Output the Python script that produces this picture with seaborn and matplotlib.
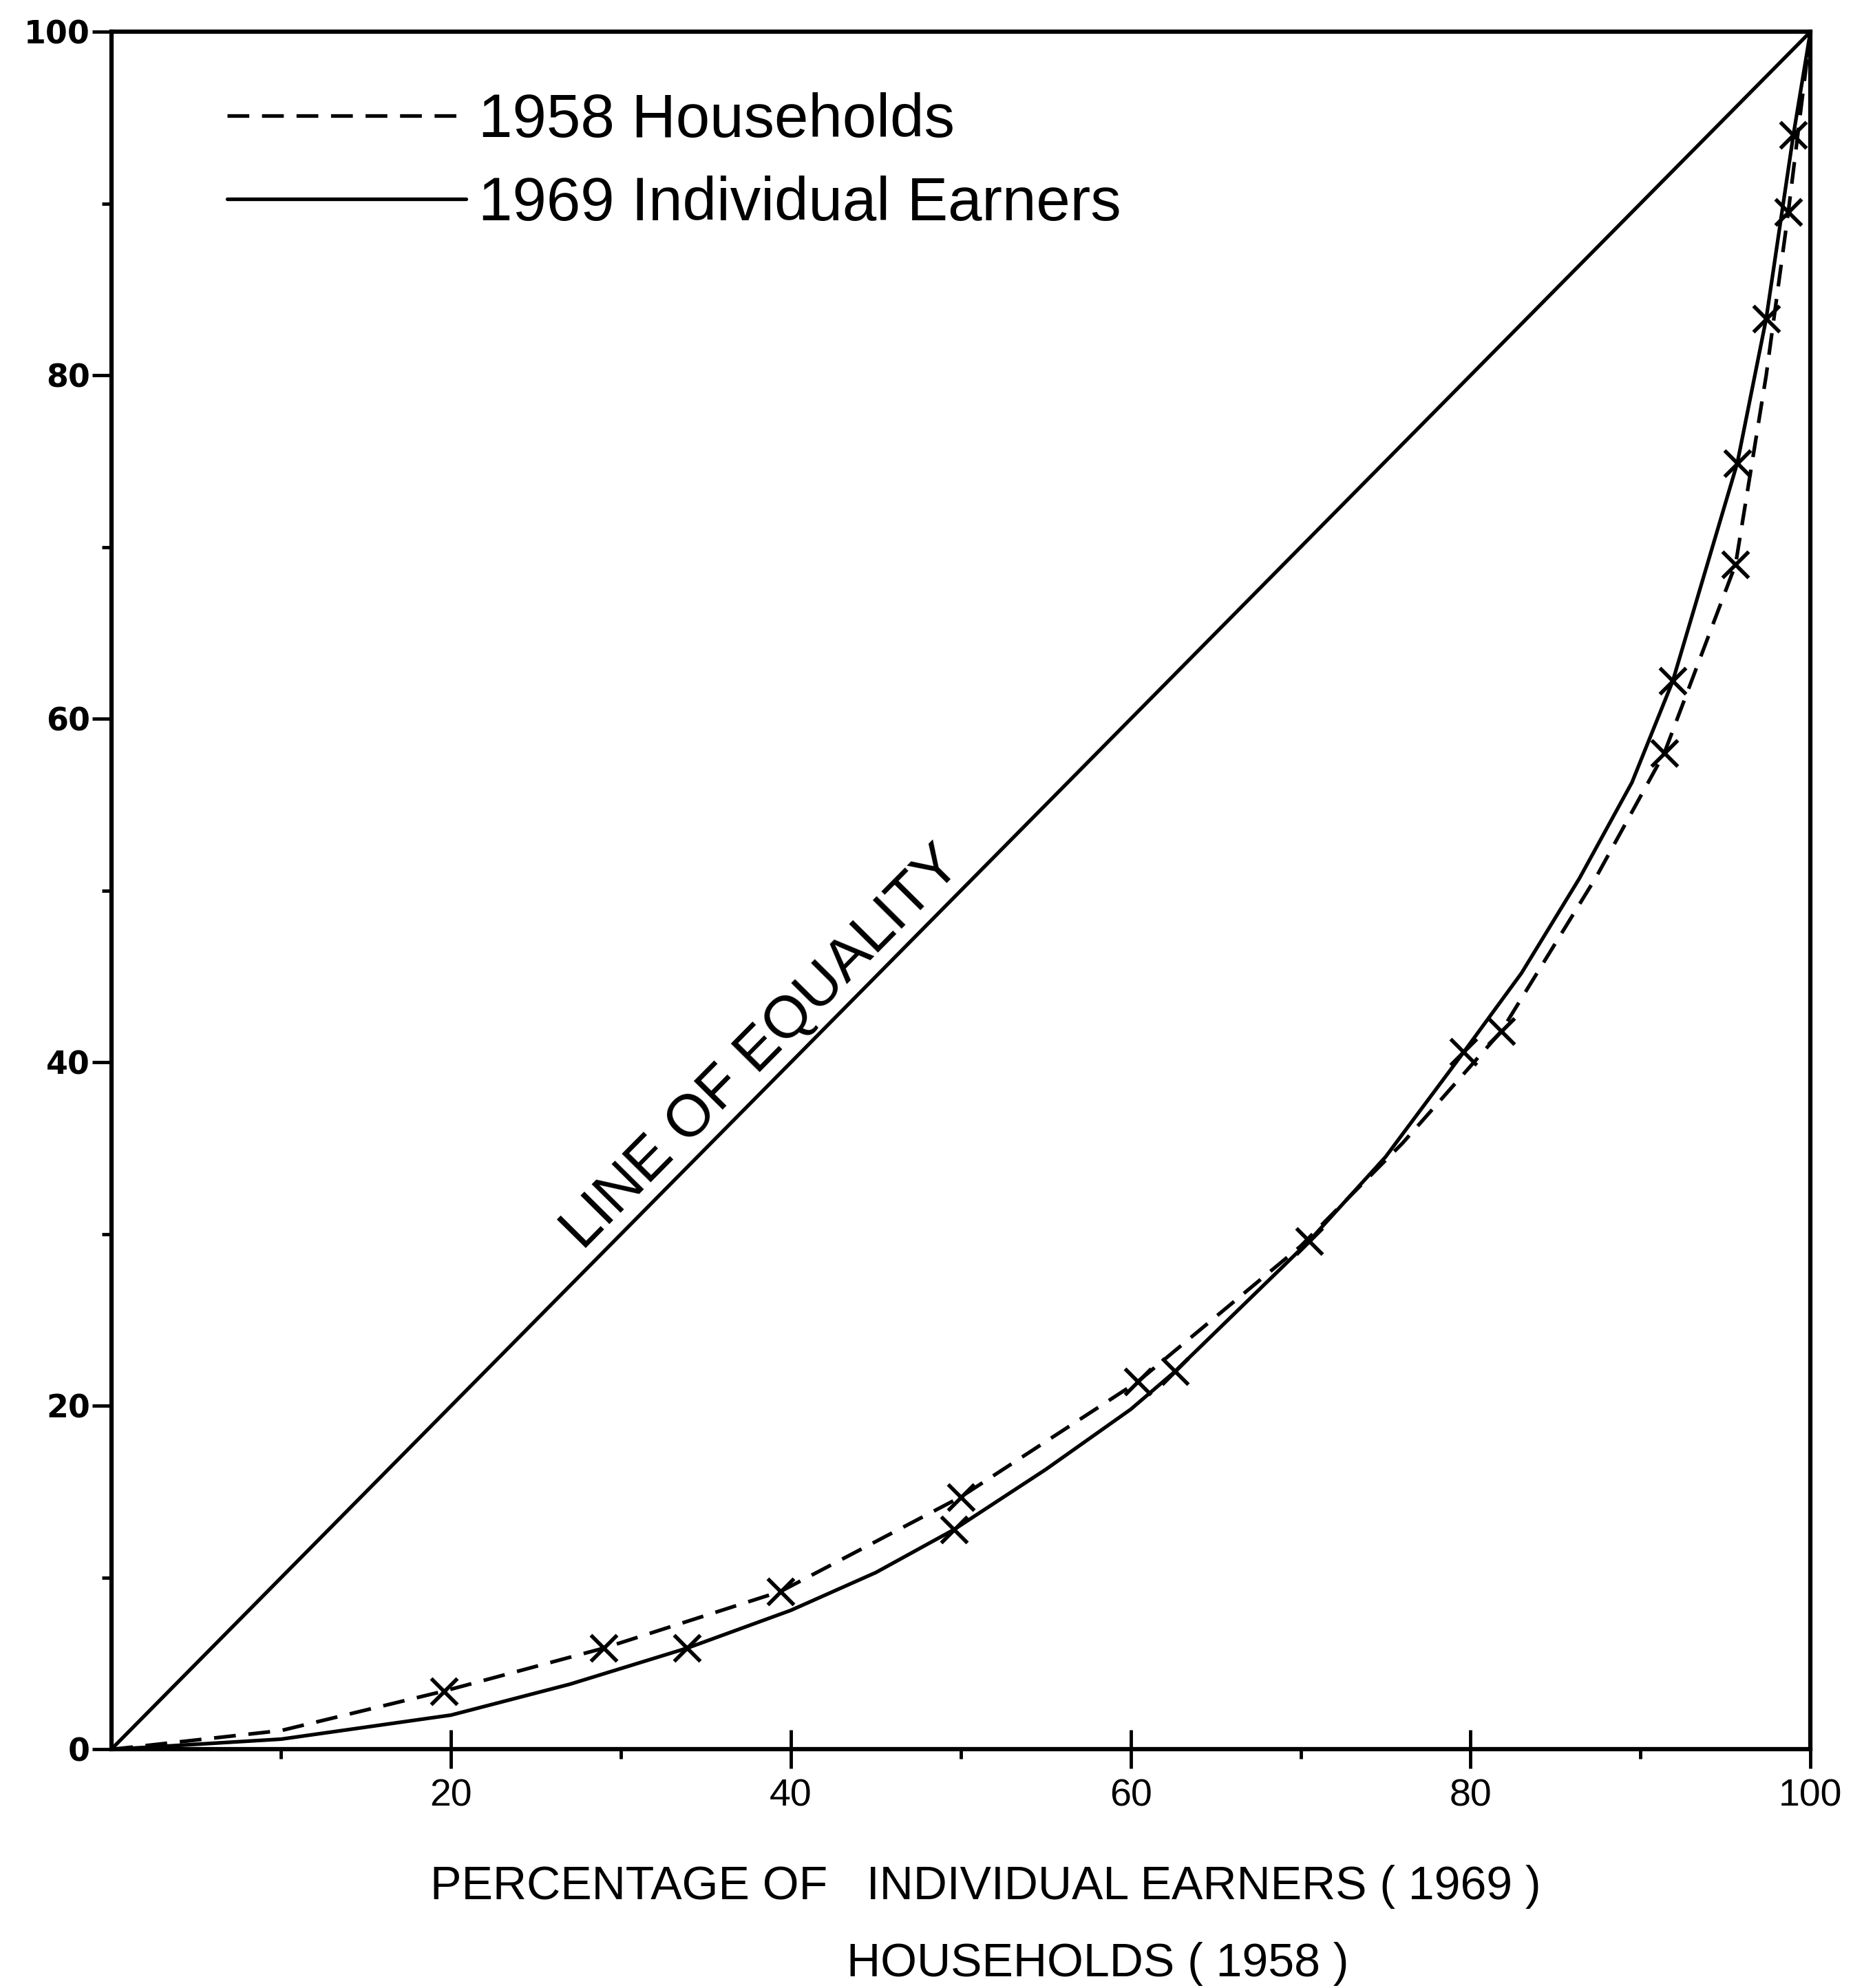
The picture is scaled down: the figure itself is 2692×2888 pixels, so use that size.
import matplotlib
matplotlib.use("Agg")
import matplotlib.pyplot as plt
import seaborn as sns
import pandas as pd

# 1958 households (dashed) - curve points
hh_x = [0, 10, 19.6, 29, 39.4, 50, 60.4, 70, 76, 81.8, 87.4, 91.4, 95.6, 97.4, 98.7, 100]
hh_y = [0, 1.1, 3.4, 5.9, 9.2, 14.7, 21.4, 29.3, 35.3, 41.8, 50.8, 58, 69, 80, 89.5, 100]
hh_mark_x = [19.6, 29, 39.4, 50, 60.4, 81.8, 91.4, 95.6, 98.7]
hh_mark_y = [3.4, 5.9, 9.2, 14.7, 21.4, 41.8, 58, 69, 89.5]

# 1969 individual earners (solid)
ie_x = [0, 10, 20, 27, 33.9, 40, 45, 49.6, 55, 60, 62.6, 70.5, 75, 79.6, 83, 86.4,
        89.5, 91.9, 95.7, 97.4, 99.0, 100]
ie_y = [0, 0.6, 2.0, 3.8, 5.9, 8.1, 10.3, 12.8, 16.3, 19.8, 22, 29.6, 34.5, 40.6, 45.2,
        50.7, 56.3, 62.2, 74.9, 83.3, 94.0, 100]
ie_mark_x = [33.9, 49.6, 62.6, 70.5, 79.6, 91.9, 95.7, 97.4, 99.0]
ie_mark_y = [5.9, 12.8, 22, 29.6, 40.6, 62.2, 74.9, 83.3, 94.0]

eq_x = [0, 100]
eq_y = [0, 100]

x_ticks = [20, 40, 60, 80, 100]
y_ticks = [0, 20, 40, 60, 80, 100]

sns.set_style("ticks", {"axes.edgecolor": "black", "text.color": "black",
                        "xtick.color": "black", "ytick.color": "black"})
plt.rcParams['font.family'] = ['DejaVu Sans']
narrow = ['Liberation Sans Narrow', 'Liberation Sans', 'DejaVu Sans']

fig = plt.figure(figsize=(26.92, 28.88), dpi=100)
ax = fig.add_axes([0.060, 0.120, 0.917, 0.864])

hh = pd.DataFrame({"x": hh_x, "y": hh_y})
ie = pd.DataFrame({"x": ie_x, "y": ie_y})

lw = 3.8
sns.lineplot(x=eq_x, y=eq_y, ax=ax, color="black", linewidth=lw, label="_nolegend_")
sns.lineplot(data=hh, x="x", y="y", ax=ax, color="black", linewidth=lw,
             sort=False, label="1958 Households")
ax.lines[-1].set_dashes((6, 3.5))
sns.lineplot(data=ie, x="x", y="y", ax=ax, color="black", linewidth=lw,
             sort=False, label="1969 Individual Earners")

sns.scatterplot(x=hh_mark_x, y=hh_mark_y, ax=ax, marker="x", s=750,
                color="black", linewidth=4, zorder=5)
sns.scatterplot(x=ie_mark_x, y=ie_mark_y, ax=ax, marker="x", s=750,
                color="black", linewidth=4, zorder=5)

ax.text(38.3, 40.8, "LINE OF EQUALITY", rotation=45, rotation_mode="anchor",
        transform_rotates_text=True, ha="center", va="center",
        fontsize=62, family=narrow, color="black")

ax.set_xlim(0, 100)
ax.set_ylim(0, 100)
ax.set_xticks(x_ticks)
ax.set_yticks(y_ticks)
ax.set_xticks([10, 30, 50, 70, 90], minor=True)
ax.set_yticks([10, 30, 50, 70, 90], minor=True)
ax.tick_params(axis="x", which="major", direction="inout", length=40, width=3.5,
               labelsize=40, pad=10, colors="black")
ax.tick_params(axis="y", which="major", direction="out", length=20, width=3.5,
               labelsize=33, pad=2, colors="black")
ax.tick_params(which="minor", direction="out", length=10, width=3.5, colors="black")
for lab in ax.get_xticklabels():
    lab.set_family(narrow)
for lab in ax.get_yticklabels():
    lab.set_fontweight("bold")
for sp in ax.spines.values():
    sp.set_linewidth(4.5)
    sp.set_color("black")
    sp.set_visible(True)
ax.set_xlabel("")
ax.set_ylabel("")

leg = ax.legend(loc="upper left", bbox_to_anchor=(0.036, 0.997), frameon=False,
                handlelength=3.9, handletextpad=0.2, labelspacing=0.42,
                prop={"family": narrow, "size": 64}, labelcolor="black")

fig.text(0.232, 0.051, "PERCENTAGE OF   INDIVIDUAL EARNERS ( 1969 )",
         ha="left", va="center", fontsize=49, family=narrow, color="black")
fig.text(0.457, 0.012, "HOUSEHOLDS ( 1958 )", ha="left", va="center",
         fontsize=49, family=narrow, color="black")

fig.savefig("out.png", dpi=100)
